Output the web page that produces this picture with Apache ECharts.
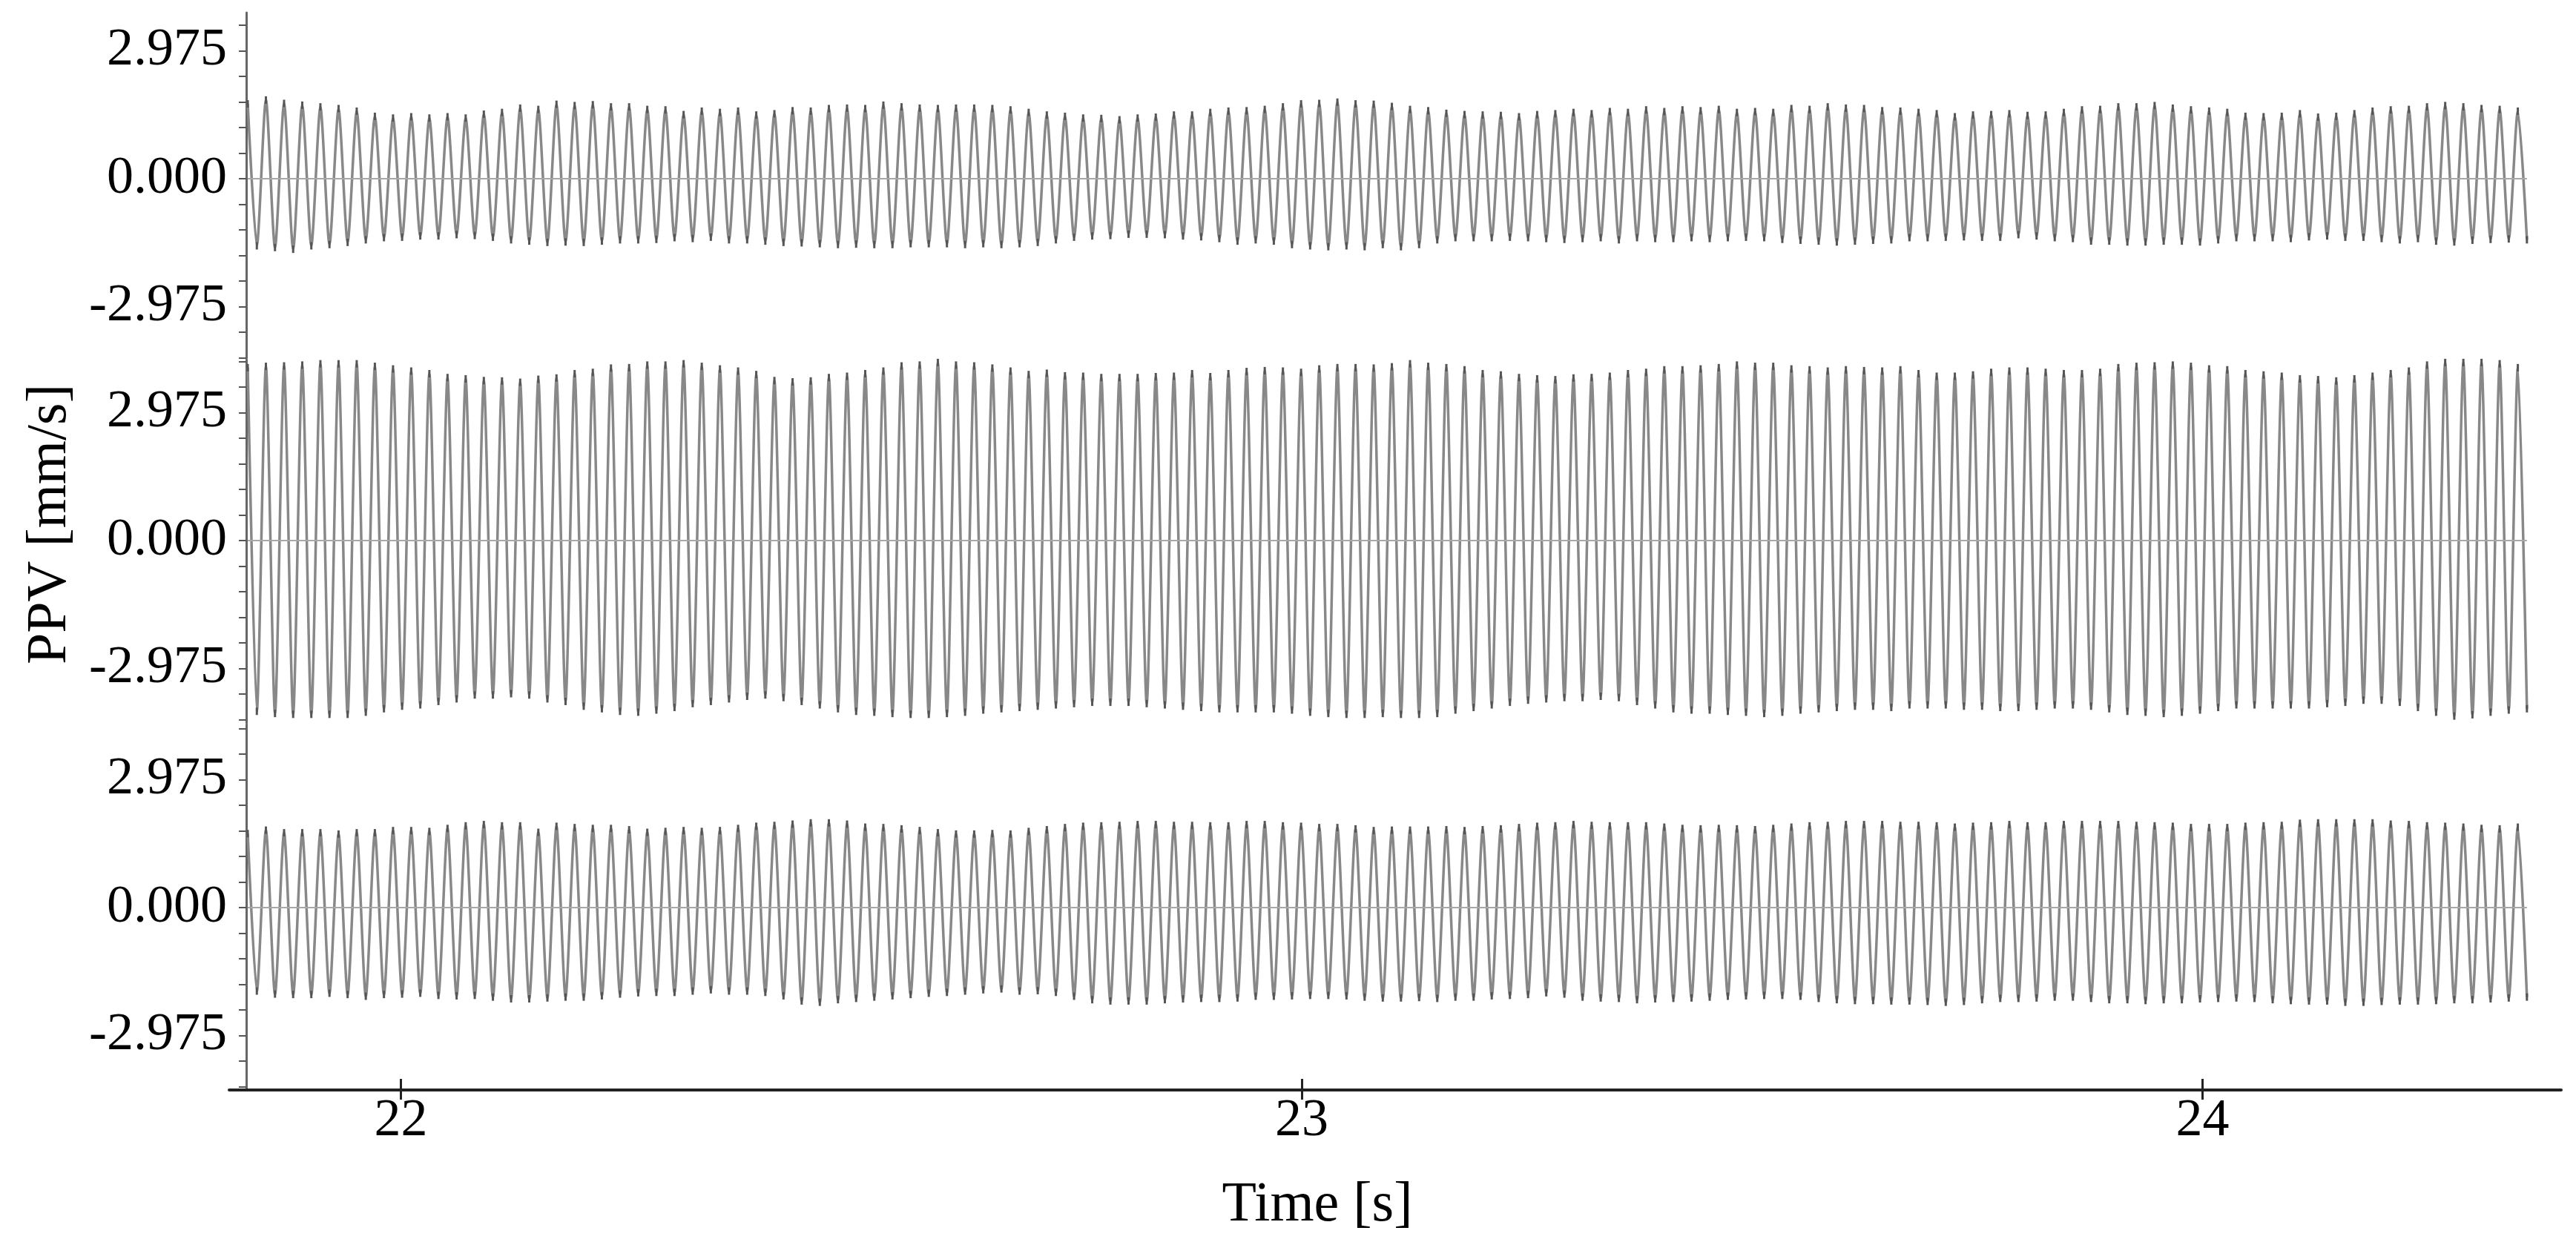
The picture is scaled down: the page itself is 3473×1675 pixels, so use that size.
<!DOCTYPE html>
<html>
<head>
<meta charset="utf-8">
<title>PPV</title>
<script src="https://cdn.jsdelivr.net/npm/echarts@6/dist/echarts.min.js"></script>
<style>
  html, body { margin: 0; padding: 0; background: #fff; }
  #main { width: 3473px; height: 1675px; }
</style>
</head>
<body>
<div id="main"></div>
<script>
// sampling of the traces
const timeStart = 21.83
const period = 0.02016

const xTickLabels = [22, 23, 24]
const yTickLabels = [-2.975, 0, 2.975]
const yMinorTicks = [-4.165, -3.57, -2.975, -2.38, -1.785, -1.19, -0.595, 0, 0.595, 1.19, 1.785, 2.38, 2.975, 3.57, 4.165]

// top trace: peak and trough amplitude of each cycle
const topPeaks = [1.74,
  1.83, 1.75, 1.71, 1.67, 1.63, 1.57, 1.45, 1.41, 1.44, 1.41,
  1.44, 1.41, 1.50, 1.54, 1.64, 1.61, 1.73, 1.70, 1.72, 1.67,
  1.67, 1.61, 1.60, 1.49, 1.57, 1.54, 1.57, 1.48, 1.51, 1.58,
  1.57, 1.63, 1.64, 1.63, 1.71, 1.67, 1.64, 1.63, 1.64, 1.64,
  1.63, 1.60, 1.54, 1.48, 1.45, 1.41, 1.40, 1.37, 1.41, 1.43,
  1.48, 1.48, 1.54, 1.57, 1.58, 1.61, 1.67, 1.74, 1.75, 1.78,
  1.74, 1.73, 1.68,
  1.61, 1.58, 1.52, 1.49, 1.48, 1.47, 1.44, 1.49, 1.51, 1.54,
  1.51, 1.56, 1.54, 1.60, 1.56, 1.60, 1.58, 1.61, 1.54, 1.56,
  1.54, 1.63, 1.61, 1.67, 1.64, 1.63, 1.58, 1.57, 1.54, 1.51,
  1.44, 1.48, 1.49, 1.51, 1.47, 1.48, 1.54, 1.60, 1.61, 1.67,
  1.67, 1.70, 1.64, 1.60, 1.57, 1.54, 1.45, 1.44, 1.45, 1.51,
  1.43, 1.45, 1.51, 1.57, 1.60, 1.61, 1.67, 1.70, 1.67, 1.63,
  1.61, 1.57]
const topTroughs = [
  1.56, 1.60, 1.64, 1.56, 1.53, 1.48, 1.42, 1.37, 1.36, 1.33,
  1.33, 1.30, 1.32, 1.36, 1.42, 1.45, 1.48, 1.47, 1.48, 1.45,
  1.42, 1.42, 1.41, 1.37, 1.39, 1.36, 1.42, 1.42, 1.45, 1.48,
  1.49, 1.51, 1.53, 1.52, 1.53, 1.53, 1.51, 1.51, 1.51, 1.53,
  1.51, 1.53, 1.51, 1.48, 1.42, 1.36, 1.33, 1.32, 1.29, 1.29,
  1.30, 1.33, 1.35, 1.39, 1.45, 1.42, 1.45, 1.53, 1.56, 1.58,
  1.56, 1.58, 1.53, 1.58,
  1.53, 1.42, 1.37, 1.37, 1.37, 1.36, 1.37, 1.39, 1.41, 1.39,
  1.37, 1.42, 1.37, 1.39, 1.39, 1.37, 1.39, 1.37, 1.36, 1.37,
  1.41, 1.43, 1.45, 1.47, 1.45, 1.43, 1.42, 1.37, 1.37, 1.36,
  1.35, 1.36, 1.36, 1.30, 1.33, 1.37, 1.39, 1.45, 1.45, 1.47,
  1.47, 1.45, 1.45, 1.47, 1.42, 1.37, 1.37, 1.37, 1.39, 1.35,
  1.33, 1.36, 1.36, 1.39, 1.42, 1.39, 1.45, 1.47, 1.43, 1.41,
  1.40, 1.42]

// middle trace
const midPeaks = [4.02,
  4.05, 4.06, 4.08, 4.11, 4.11, 4.11, 4.05, 3.99, 3.94, 3.88,
  3.79, 3.76, 3.72, 3.71, 3.68, 3.75, 3.78, 3.88, 3.91, 4.01,
  4.02, 4.08, 4.08, 4.11, 4.05, 3.99, 3.94, 3.86, 3.72, 3.69,
  3.71, 3.79, 3.82, 3.88, 3.94, 4.06, 4.08, 4.14, 4.08, 4.06,
  4.01, 3.94, 3.86, 3.89, 3.83, 3.82, 3.79, 3.79, 3.79, 3.81,
  3.82, 3.88, 3.81, 3.88, 3.93, 3.95, 3.94, 3.91, 3.99, 4.02,
  4.02, 4.01, 4.04,
  4.11, 4.05, 4.02, 3.97, 3.88, 3.85, 3.79, 3.76, 3.74,
  3.78, 3.79, 3.82, 3.88, 3.91, 3.97, 3.97, 3.99, 4.02,
  4.08, 4.05, 4.05, 3.99, 3.97, 3.94, 3.97, 3.95, 3.94, 3.97,
  3.88, 3.82, 3.82, 3.85, 3.91, 3.94, 3.94, 3.91, 3.88, 3.88,
  3.91, 4.02, 4.05, 4.06, 4.08, 4.05, 3.99, 3.97, 3.88, 3.85,
  3.82, 3.76, 3.74, 3.71, 3.76, 3.82, 3.88, 3.94, 4.08, 4.14, 4.14, 4.14, 4.11,
  4.02]
const midTroughs = [
  3.97, 4.02, 4.04, 4.04, 4.04, 4.04, 3.99, 3.91, 3.85, 3.82,
  3.74, 3.68, 3.59, 3.59, 3.56, 3.59, 3.68, 3.74, 3.85, 3.91,
  3.97, 3.99, 3.94, 3.88, 3.79, 3.74, 3.68, 3.62, 3.59, 3.65,
  3.74, 3.82, 3.91, 3.97, 3.99, 4.02, 4.04, 4.04, 4.02, 3.99,
  3.94, 3.91, 3.88, 3.85, 3.82, 3.79, 3.76, 3.76, 3.76, 3.79,
  3.82, 3.85, 3.88, 3.91, 3.91, 3.91, 3.91, 3.94, 3.99, 4.02,
  4.04, 4.04, 4.02,
  4.04, 4.04, 4.02, 3.94, 3.88, 3.82, 3.76, 3.71, 3.68, 3.65, 3.65, 3.62,
  3.65, 3.74, 3.82, 3.91, 3.94, 3.94, 3.97, 3.99, 4.02, 3.99,
  3.94, 3.91, 3.88, 3.85, 3.85, 3.88, 3.82, 3.82, 3.82, 3.85,
  3.85, 3.88, 3.88, 3.85, 3.82, 3.82, 3.85, 3.91, 3.97, 3.99,
  4.02, 3.99, 3.94, 3.88, 3.82, 3.82, 3.82, 3.82, 3.82, 3.79,
  3.76, 3.71, 3.71, 3.76, 3.88, 3.99, 4.08, 4.05, 3.99, 3.94,
  3.91]

// bottom trace
const botPeaks = [1.72,
  1.80, 1.74, 1.74, 1.74, 1.71, 1.74, 1.74, 1.79, 1.79, 1.77,
  1.84, 1.90, 1.93, 1.90, 1.90, 1.75, 1.89, 1.86, 1.84, 1.84,
  1.81, 1.75, 1.77, 1.79, 1.77, 1.79, 1.84, 1.89, 1.91, 1.94,
  1.97, 1.97, 1.94, 1.87, 1.86, 1.83, 1.79, 1.74, 1.71, 1.71,
  1.72, 1.71, 1.77, 1.81, 1.86, 1.89, 1.90, 1.91, 1.93, 1.93,
  1.91, 1.91, 1.90, 1.90, 1.93, 1.93, 1.90, 1.89, 1.86, 1.86,
  1.83, 1.79, 1.80,
  1.80, 1.80, 1.81, 1.79, 1.81, 1.83, 1.86, 1.89, 1.90, 1.93,
  1.91, 1.90, 1.90, 1.90, 1.87, 1.84, 1.83, 1.84, 1.83, 1.81,
  1.84, 1.87, 1.90, 1.91, 1.93, 1.93, 1.93, 1.91, 1.91, 1.90,
  1.87, 1.89, 1.90, 1.93, 1.90, 1.90, 1.93, 1.93, 1.93, 1.93,
  1.91, 1.90, 1.89, 1.86, 1.86, 1.86, 1.89, 1.90, 1.91, 1.96,
  1.97, 1.97, 1.97, 1.97, 1.94, 1.93, 1.90, 1.89, 1.87, 1.84,
  1.83, 1.87]
const botTroughs = [
  1.94, 2.01, 2.02, 2.02, 1.99, 2.02, 2.06, 2.02, 2.01, 1.99,
  2.04, 2.05, 2.04, 2.08, 2.12, 2.12, 2.10, 2.08, 2.08, 2.05,
  2.01, 1.98, 1.97, 1.97, 1.94, 1.91, 1.94, 1.94, 1.97, 2.05,
  2.17, 2.20, 2.14, 2.11, 2.08, 2.05, 2.02, 1.99, 1.97, 1.94,
  1.91, 1.89, 1.94, 1.93, 1.97, 2.06, 2.14, 2.17, 2.17, 2.17,
  2.14, 2.12, 2.11, 2.11, 2.10, 2.06, 2.06, 2.05, 2.04, 2.04,
  2.05, 2.08, 2.10,
  2.10, 2.09,
  2.11, 2.08, 2.08, 2.05, 2.04, 2.02, 1.98, 2.01, 2.08, 2.10,
  2.11, 2.14, 2.12, 2.11, 2.10, 2.08, 2.06, 2.05, 2.04, 2.04,
  2.06, 2.11, 2.14, 2.16, 2.16, 2.17, 2.17, 2.18, 2.20, 2.18,
  2.14, 2.11, 2.11, 2.10, 2.08, 2.08, 2.11, 2.14, 2.14, 2.16,
  2.14, 2.14, 2.12, 2.11, 2.10, 2.11, 2.14, 2.16, 2.17, 2.17,
  2.20, 2.20, 2.18, 2.17, 2.17, 2.16, 2.14, 2.14, 2.12, 2.10,
  2.08]

const panels = [
  { peaks: topPeaks, troughs: topTroughs },
  { peaks: midPeaks, troughs: midTroughs },
  { peaks: botPeaks, troughs: botTroughs }
]

// layout
const FONT = "'Liberation Serif', 'Times New Roman', serif"
const gridTops = [17, 485, 977]
const gridHeights = [466, 490, 493]
const yRanges = [[-4.172, 3.862], [-4.241, 4.207], [-4.241, 4.259]]
const xMin = 21.8094
const xMax = 24.3981

// one point per peak and per trough, half a period apart
const buildWave = (peaks, troughs) => {
  const pts = []
  peaks.forEach((p, i) => {
    pts.push([timeStart + i * period, p])
    if (i < troughs.length) pts.push([timeStart + (i + 0.5) * period, -troughs[i]])
  })
  return pts
}

const chart = echarts.init(document.getElementById('main'), null, { renderer: 'canvas' })

const grids = gridTops.map((top, i) => ({
  left: 309,
  right: 20,
  top: top,
  height: gridHeights[i],
  containLabel: false
}))

const xAxes = grids.map((g, i) => ({
  type: 'value',
  gridIndex: i,
  min: xMin,
  max: xMax,
  show: i === 2,
  position: 'bottom',
  axisLine: { onZero: false, lineStyle: { color: '#222', width: 4 } },
  axisTick: { customValues: xTickLabels, length: 13, lineStyle: { color: '#222', width: 3 } },
  axisLabel: {
    customValues: xTickLabels,
    margin: 6,
    fontSize: 72,
    fontFamily: FONT,
    color: '#000'
  },
  splitLine: { show: false },
  name: i === 2 ? 'Time [s]' : '',
  nameLocation: 'middle',
  nameGap: 118,
  nameTextStyle: { fontSize: 76, fontFamily: FONT, color: '#000', padding: [0, 210, 0, 0] }
}))
// upward half of the cross ticks on the time axis
xAxes.push({
  type: 'value',
  gridIndex: 2,
  min: xMin,
  max: xMax,
  position: 'bottom',
  axisLine: { show: false, onZero: false },
  axisTick: { inside: true, customValues: xTickLabels, length: 15, lineStyle: { color: '#222', width: 3 } },
  axisLabel: { show: false },
  splitLine: { show: false }
})

const yAxes = grids.map((g, i) => ({
  type: 'value',
  gridIndex: i,
  min: yRanges[i][0],
  max: yRanges[i][1],
  offset: -23,
  axisLine: { show: true, lineStyle: { color: '#666', width: 3 } },
  axisTick: {
    customValues: yMinorTicks.filter(v => v >= yRanges[i][0] && v <= yRanges[i][1]),
    length: 10,
    lineStyle: { color: '#555', width: 2 }
  },
  axisLabel: {
    customValues: yTickLabels,
    formatter: v => v.toFixed(3),
    margin: 26,
    fontSize: 72,
    fontFamily: FONT,
    color: '#000'
  },
  splitLine: { show: false },
  name: i === 1 ? 'PPV [mm/s]' : '',
  nameLocation: 'middle',
  nameGap: 226,
  nameTextStyle: { fontSize: 76, fontFamily: FONT, color: '#000', padding: [0, 0, 0, 46] }
}))

const series = panels.map((p, i) => {
  const data = buildWave(p.peaks, p.troughs)
  return {
    type: 'line',
    xAxisIndex: i,
    yAxisIndex: i,
    data: data,
    smooth: 0.25,
    showSymbol: true,
    symbol: 'rect',
    symbolSize: [3, 10],
    itemStyle: { color: '#555' },
    lineStyle: { color: '#888', width: 3.5 },
    markLine: {
      silent: true,
      symbol: ['none', 'none'],
      label: { show: false },
      lineStyle: { color: '#a8a8a8', width: 2, type: 'solid' },
      data: [[{ coord: [data[0][0], 0] }, { coord: [data[data.length - 1][0], 0] }]]
    }
  }
})

chart.setOption({
  animation: false,
  backgroundColor: '#fff',
  grid: grids,
  xAxis: xAxes,
  yAxis: yAxes,
  series: series
})
</script>
</body>
</html>
